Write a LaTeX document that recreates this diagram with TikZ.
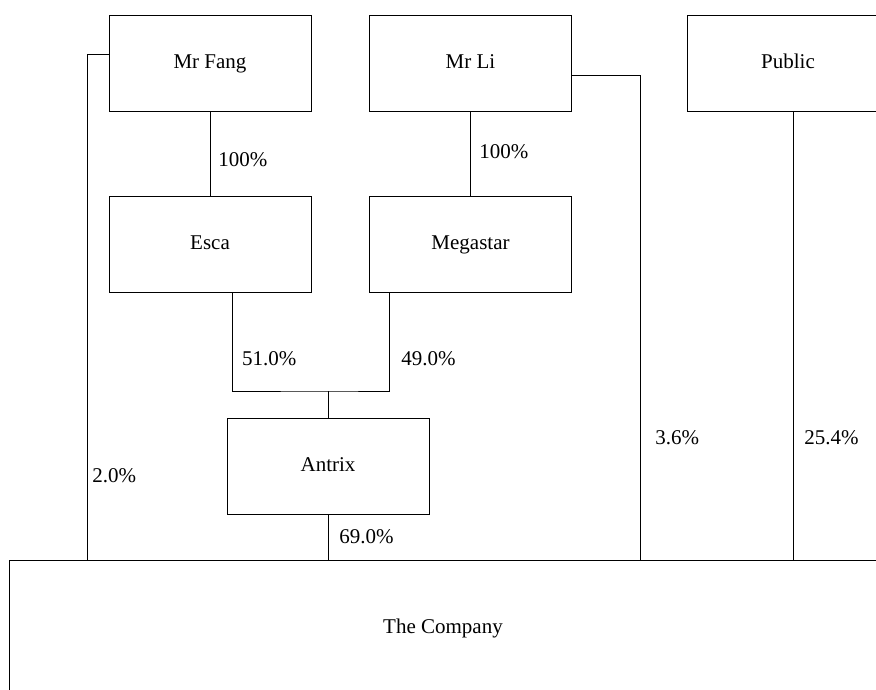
\documentclass[tikz,border=0pt]{standalone}
\usepackage{fontspec}
\setmainfont{Liberation Serif}
\usetikzlibrary{positioning}

\begin{document}
\begin{tikzpicture}[x=1pt, y=-1pt, line width=0.9pt,
  font=\fontsize{21}{25}\selectfont,
  holder/.style={draw, rectangle, minimum width=202pt, minimum height=96pt, inner sep=0pt,
    text height=14pt, text depth=4pt},
  share/.style={anchor=west, inner sep=0pt}]
\clip (0,0) rectangle (876,689);
% owners
\node[holder] (fang) at (210,63) {Mr Fang};
\node[holder] (li) at (470.5,63) {Mr Li};
\node[holder] (public) at (788,63) {Public};
% holding companies
\node[holder] (esca) at (210,244) {Esca};
\node[holder] (megastar) at (470.5,244) {Megastar};
\node[holder] (antrix) at (328,466) {Antrix};
\node[holder, minimum width=868pt, minimum height=136pt] (company) at (443,628) {The Company};
% joints
\coordinate (split) at (328,391);
\coordinate (fangfoot) at (87,560);
\coordinate (lifoot) at (640,560);
\draw (fang) -- (esca) node[share] at (218,160) {100\%};
\draw (li) -- (megastar) node[share] at (479,152) {100\%};
\draw ([xshift=22pt]esca.south) |- (split) -| ([xshift=-81.5pt]megastar.south);
\draw (split) -- (antrix);
\node[share] (eshare) at (241.7,359) {51.0\%};
\node[share] (mshare) at (401,359) {49.0\%};
\draw (antrix) -- (antrix.south |- company.north) node[share] at (339,537) {69.0\%};
\draw ([yshift=9pt]fang.west) -| (fangfoot);
\node[share] (fshare) at (92,476) {2.0\%};
\draw ([yshift=-12pt]li.east) -| (lifoot);
\node[share] (lshare) at (655,438) {3.6\%};
\draw ([xshift=5pt]public.south) -- ([xshift=5pt]public.south |- company.north);
\node[share] (pshare) at (804,438) {25.4\%};
\end{tikzpicture}
\end{document}
